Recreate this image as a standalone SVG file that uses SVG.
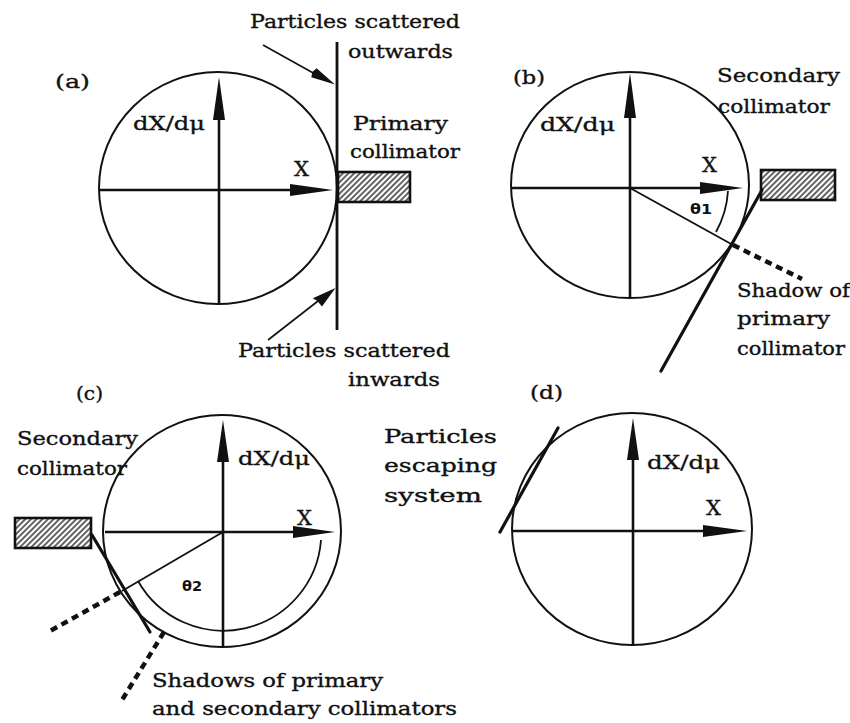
<svg xmlns="http://www.w3.org/2000/svg" width="850" height="723" viewBox="0 0 850 723">
<style>
.t{font-family:"DejaVu Serif","Liberation Serif",serif;font-size:19px;fill:#111;stroke:#111;stroke-width:0.35}
.x{font-size:21px}
.th{font-family:"DejaVu Sans","Liberation Sans",sans-serif;font-size:14px;font-weight:bold;fill:#111}
.circ{fill:none;stroke:#111;stroke-width:2}
.axis{fill:none;stroke:#111;stroke-width:2.6}
.head{fill:#111}
.thin{fill:none;stroke:#111;stroke-width:1.8}
.solid{fill:none;stroke:#111;stroke-width:3.2;stroke-linecap:round}
.dots{fill:none;stroke:#111;stroke-width:4.5;stroke-dasharray:7 5}
.coll{fill:url(#hatch);stroke:#111;stroke-width:2.6}
.conn{fill:none;stroke:#111;stroke-width:1.6}
</style>
<defs>
<pattern id="hatch" patternUnits="userSpaceOnUse" width="4" height="4" patternTransform="rotate(45)">
<rect width="4" height="4" fill="#fff"/>
<line x1="1" y1="0" x2="1" y2="4" stroke="#111" stroke-width="1.3"/>
</pattern>
</defs>

<g id="panel-a">
<text class="t" x="55" y="88" textLength="35" lengthAdjust="spacingAndGlyphs">(a)</text>
<ellipse class="circ" cx="218" cy="188" rx="119" ry="116"/>
<line class="axis" x1="99" y1="190" x2="295" y2="190"/>
<polygon class="head" points="290,184 333,190 290,196"/>
<line class="axis" x1="219" y1="304" x2="219" y2="115"/>
<polygon class="head" points="213,120 219,77 225,120"/>
<text class="t" x="133" y="130" textLength="72" lengthAdjust="spacingAndGlyphs">dX/dμ</text>
<text class="t x" x="294" y="176">X</text>
<line class="solid" x1="337" y1="42" x2="337" y2="330" style="stroke-width:2.8;stroke-linecap:butt"/>
<rect class="coll" x="338" y="172" width="72" height="30"/>
<text class="t" x="250" y="28" textLength="210" lengthAdjust="spacingAndGlyphs">Particles scattered</text>
<text class="t" x="348" y="58" textLength="105" lengthAdjust="spacingAndGlyphs">outwards</text>
<text class="t" x="353" y="130" textLength="95" lengthAdjust="spacingAndGlyphs">Primary</text>
<text class="t" x="350" y="158" textLength="110" lengthAdjust="spacingAndGlyphs">collimator</text>
<text class="t" x="238" y="357" textLength="212" lengthAdjust="spacingAndGlyphs">Particles scattered</text>
<text class="t" x="348" y="386" textLength="92" lengthAdjust="spacingAndGlyphs">inwards</text>
</g>

<g id="panel-b">
<text class="t" x="513" y="84" textLength="32" lengthAdjust="spacingAndGlyphs">(b)</text>
<ellipse class="circ" cx="630" cy="185" rx="119" ry="113"/>
<line class="axis" x1="511" y1="188" x2="705" y2="188"/>
<polygon class="head" points="700,182 743,188 700,194"/>
<line class="axis" x1="630" y1="297" x2="630" y2="113"/>
<polygon class="head" points="624,118 630,73 636,118"/>
<text class="t" x="540" y="131" textLength="75" lengthAdjust="spacingAndGlyphs">dX/dμ</text>
<text class="t x" x="702" y="172">X</text>
<line class="thin" x1="630" y1="188" x2="733" y2="245"/>
<path class="thin" d="M728,191 A97,97 0 0 1 716,232"/>
<text class="th" x="690" y="214" textLength="22" lengthAdjust="spacingAndGlyphs">θ1</text>
<rect class="coll" x="761" y="170" width="74" height="30"/>
<line class="solid" x1="762" y1="190" x2="661" y2="371"/>
<line class="dots" x1="733" y1="245" x2="802" y2="279"/>
<text class="t" x="717" y="82" textLength="123" lengthAdjust="spacingAndGlyphs">Secondary</text>
<text class="t" x="718" y="113" textLength="112" lengthAdjust="spacingAndGlyphs">collimator</text>
<text class="t" x="737" y="297" textLength="113" lengthAdjust="spacingAndGlyphs">Shadow of</text>
<text class="t" x="737" y="325" textLength="93" lengthAdjust="spacingAndGlyphs">primary</text>
<text class="t" x="737" y="355" textLength="108" lengthAdjust="spacingAndGlyphs">collimator</text>
</g>

<g id="panel-c">
<text class="t" x="76" y="400" textLength="27" lengthAdjust="spacingAndGlyphs">(c)</text>
<ellipse class="circ" cx="222" cy="531" rx="119" ry="116"/>
<line class="axis" x1="105" y1="532" x2="298" y2="532"/>
<polygon class="head" points="293,526 335,532 293,538"/>
<line class="axis" x1="223" y1="647" x2="223" y2="457"/>
<polygon class="head" points="217,462 223,420 229,462"/>
<text class="t" x="238" y="465" textLength="72" lengthAdjust="spacingAndGlyphs">dX/dμ</text>
<text class="t x" x="297" y="525">X</text>
<line class="thin" x1="223" y1="532" x2="122" y2="591"/>
<path class="thin" d="M138,581 A98,98 0 0 0 321,540"/>
<text class="th" x="182" y="591" textLength="20" lengthAdjust="spacingAndGlyphs">θ2</text>
<rect class="coll" x="15" y="518" width="76" height="30"/>
<line class="solid" x1="92" y1="535" x2="150" y2="632"/>
<line class="dots" x1="120" y1="592" x2="50" y2="631"/>
<line class="dots" x1="164" y1="632" x2="122" y2="700"/>
<text class="t" x="17" y="445" textLength="121" lengthAdjust="spacingAndGlyphs">Secondary</text>
<text class="t" x="17" y="475" textLength="110" lengthAdjust="spacingAndGlyphs">collimator</text>
<text class="t" x="152" y="687" textLength="231" lengthAdjust="spacingAndGlyphs">Shadows of primary</text>
<text class="t" x="152" y="715" textLength="305" lengthAdjust="spacingAndGlyphs">and secondary collimators</text>
</g>

<g id="panel-d">
<text class="t" x="530" y="399" textLength="33" lengthAdjust="spacingAndGlyphs">(d)</text>
<ellipse class="circ" cx="632" cy="529" rx="120" ry="116"/>
<line class="axis" x1="512" y1="531" x2="708" y2="531"/>
<polygon class="head" points="703,525 747,531 703,537"/>
<line class="axis" x1="633" y1="645" x2="633" y2="455"/>
<polygon class="head" points="627,460 633,418 639,460"/>
<text class="t" x="647" y="469" textLength="73" lengthAdjust="spacingAndGlyphs">dX/dμ</text>
<text class="t x" x="706" y="515">X</text>
<line class="solid" x1="558" y1="428" x2="500" y2="532"/>
<text class="t" x="384" y="443" textLength="113" lengthAdjust="spacingAndGlyphs">Particles</text>
<text class="t" x="384" y="472" textLength="113" lengthAdjust="spacingAndGlyphs">escaping</text>
<text class="t" x="384" y="502" textLength="98" lengthAdjust="spacingAndGlyphs">system</text>
</g>

<g id="connectors">
<line class="conn" x1="263" y1="45" x2="315" y2="74"/>
<polygon class="head" points="311.3,77.3 312.3,72.1 316.6,68.3 335,84.5"/>
<line class="conn" x1="268" y1="340" x2="318" y2="301"/>
<polygon class="head" points="312.8,298.2 317.1,300.8 322,306.5 335.5,288"/>
</g>
</svg>
